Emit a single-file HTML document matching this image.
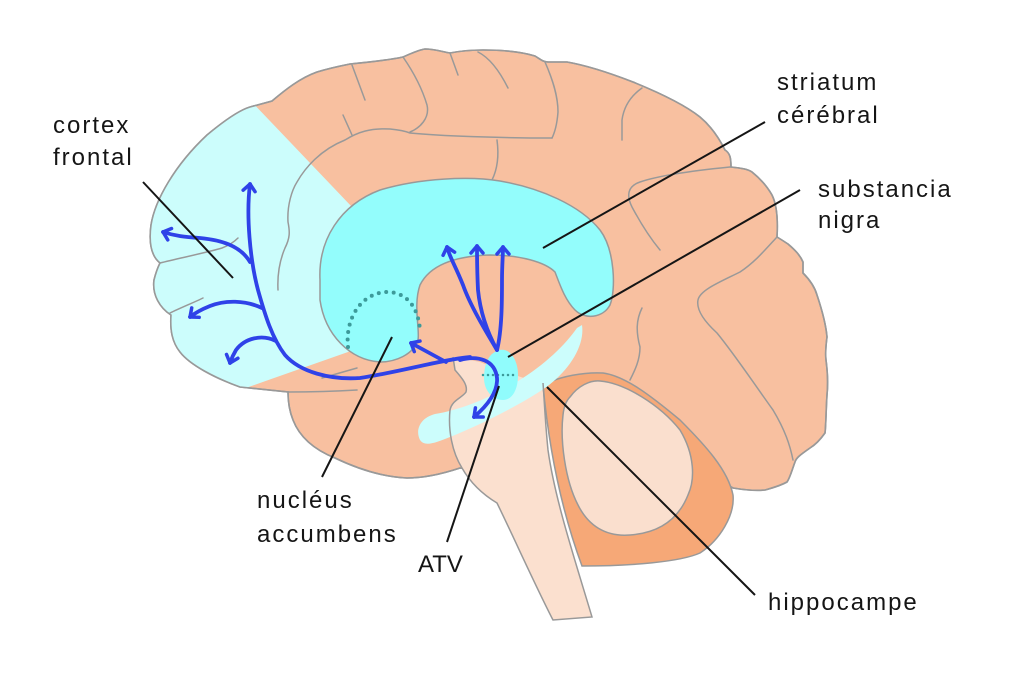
<!DOCTYPE html>
<html>
<head>
<meta charset="utf-8">
<style>
  html,body{margin:0;padding:0;background:#fff;}
  svg{display:block;}
  text{font-family:"Liberation Sans",Arial,sans-serif;font-size:24px;fill:#151515;letter-spacing:2px;}
</style>
</head>
<body>
<svg width="1023" height="679" viewBox="0 0 1023 679" xmlns="http://www.w3.org/2000/svg">
  <defs>
    <path id="outer" d="M240,387 C215,378 190,365 180,352 C172,342 170,330 171,315 C160,308 152,295 154,280 C156,272 158,267 160,263 C150,255 149,240 151,225 C155,200 175,165 207,135 C225,120 240,110 250,107 L272,101 C285,90 300,78 317,72 C330,68 340,66 350,64 C370,62 390,60 403,57 C410,54 418,50 425,49 C435,49 443,52 450,53 C460,51 470,50 483,50 C505,50 522,52 535,56 C540,59 543,62 548,62 L567,62 C590,66 615,75 633,82 C660,93 685,105 700,117 C712,127 720,140 725,150 C730,153 731,158 731,167 C740,168 748,169 752,172 C762,180 768,188 772,195 C777,205 778,220 777,237 C782,240 785,242 788,244 C795,250 800,255 803,262 L803,273 C810,280 815,288 817,295 C822,310 826,325 827,337 C826,345 825,352 826,360 C828,375 828,385 827,395 C826,410 826,425 825,433 C820,440 815,445 810,448 C800,455 796,458 795,462 C792,470 790,478 787,482 C780,486 772,488 765,490 C755,491 745,490 733,488 L700,470 L640,400 L560,385 L500,470 L460,468 C445,473 425,478 407,478 C385,477 360,470 335,458 C315,450 300,438 293,420 C289,410 288,400 288,392 Z"/>
    <clipPath id="clipOuter"><use href="#outer"/></clipPath>
    <marker id="ah" markerUnits="userSpaceOnUse" orient="auto" markerWidth="1" markerHeight="1" refX="0" refY="0" style="overflow:visible">
      <path d="M-7,-6 L0,0 L-7,6" fill="none" stroke="#2F42E8" stroke-width="3.5" stroke-linecap="round" stroke-linejoin="round"/>
    </marker>
  </defs>

  <!-- cerebrum -->
  <use href="#outer" fill="#F8C0A0" stroke="#999" stroke-width="1.6"/>

  <!-- frontal cortex light cyan -->
  <polygon clip-path="url(#clipOuter)" points="250,100 352,207 365,260 365,345 348,352 240,390 120,392 120,40 250,40" fill="#CCFDFC"/>

  <!-- sulci -->
  <g fill="none" stroke="#999" stroke-width="1.5" stroke-linecap="round">
    <path d="M352,65 L365,100"/>
    <path d="M403,57 C412,70 422,88 427,105 C430,118 420,128 410,132"/>
    <path d="M450,53 L458,75"/>
    <path d="M478,52 C490,58 500,72 508,88"/>
    <path d="M545,62 C552,78 558,95 558,112 C557,125 555,132 552,138"/>
    <path d="M278,290 C277,270 282,255 285,248 C290,238 290,232 288,222 C287,205 292,190 297,182 C305,168 320,150 345,140 C358,132 370,128 390,129 C400,130 405,131 410,133 C440,136 500,138 552,138"/>
    <path d="M497,140 C499,155 498,168 492,180"/>
    <path d="M642,88 C632,95 624,105 622,120 L622,140"/>
    <path d="M730,167 C700,170 660,175 640,182 C628,186 626,195 632,207 C640,222 650,238 660,250"/>
    <path d="M343,115 L352,135"/>
    <path d="M777,237 C765,250 755,262 740,272 C720,282 700,290 698,300 C696,310 705,322 717,333 C735,355 755,385 773,410 C785,430 790,445 793,460"/>
    <path d="M642,308 C636,320 636,332 640,347 C640,360 635,370 630,380"/>
    <path d="M160,263 C180,258 205,253 222,248 C230,245 235,241 238,238"/>
    <path d="M170,313 C180,308 195,302 203,298"/>
    <path d="M322,378 L357,368"/>
    <path d="M288,392 C310,392 340,391 357,390"/>
  </g>
  <use href="#outer" fill="none" stroke="#999" stroke-width="1.6"/>

  <!-- striatum -->
  <path d="M320,280 C318,240 340,205 380,190 C420,178 470,176 500,181 C540,188 580,205 600,230 C615,250 616,290 610,305 C603,318 585,320 575,310 C565,300 560,285 555,272 C545,262 520,255 490,255 C455,256 430,265 420,285 C413,305 420,330 418,340 C413,355 395,362 380,362 C350,360 325,335 320,300 Z" fill="#93FDFC" stroke="#999" stroke-width="1.5"/>

  <!-- brainstem fill -->
  <path d="M453,357 L455,370 C462,378 468,385 466,392 C462,398 452,400 450,410 C448,430 452,452 462,468 C470,482 482,494 497,503 C515,540 535,585 553,620 L592,617 C575,560 555,500 548,450 C545,420 544,395 543,383 C520,378 495,368 480,362 L460,358 Z" fill="#FBE0CF"/>

  <!-- cerebellum -->
  <path d="M543,385 C560,376 585,372 603,373 C625,376 650,395 680,420 C705,445 728,470 733,495 C735,515 720,540 700,553 C680,562 630,566 582,566 C565,520 550,460 543,385 Z" fill="#F6A877" stroke="#999" stroke-width="1.5"/>
  <path d="M570,397 C578,386 590,380 600,381 C625,383 660,405 680,430 C695,455 695,480 688,495 C678,520 658,533 630,535 C605,537 588,525 578,505 C565,480 560,440 563,415 C564,405 567,400 570,397 Z" fill="#FADFCE" stroke="#999" stroke-width="1.5"/>

  <!-- light cyan band -->
  <path d="M582,325 C585,345 570,370 545,388 C520,405 480,425 450,437 C435,443 425,447 420,440 C415,430 420,418 435,414 C460,410 490,398 515,383 C545,365 565,345 577,328 Z" fill="#CCFDFC"/>

  <!-- brainstem strokes -->
  <g fill="none" stroke="#999" stroke-width="1.5">
    <path d="M453,357 L455,370 C462,378 468,385 466,392 C462,398 452,400 450,410 C448,430 452,452 462,468 C470,482 482,494 497,503 C515,540 535,585 553,620 L592,617 C575,560 555,500 548,450 C545,420 544,395 543,383"/>
  </g>

  <!-- ATV -->
  <path d="M500,350 C510,348 518,360 518,375 C518,390 512,400 503,400 C492,400 484,390 484,378 C484,362 490,352 500,350 Z" fill="#90FCFC"/>
  <path d="M483,375 L518,375" stroke="#3D9A9A" stroke-width="2.5" stroke-dasharray="0 5" stroke-linecap="round"/>

  <!-- nucleus accumbens dots -->
  <path d="M348,347 C345,320 360,293 387,292 C405,292 418,305 420,330" fill="none" stroke="#3D9A9A" stroke-width="4" stroke-dasharray="0 7.5" stroke-linecap="round"/>

  <!-- dopamine pathways -->
  <g fill="none" stroke="#2F42E8" stroke-width="3.8" stroke-linecap="round" stroke-linejoin="round">
    <path d="M470,357 C440,360 400,372 360,378 C330,380 300,372 285,355 C272,338 265,315 258,290 C250,260 246,215 250,184" marker-end="url(#ah)"/>
    <path d="M460,360 C478,355 495,360 497,378 C498,392 488,405 474,417" marker-end="url(#ah)"/>
    <path d="M250,262 C240,245 220,240 200,238 C185,237 175,236 163,232" marker-end="url(#ah)"/>
    <path d="M262,308 C245,300 225,300 210,306 C200,310 195,313 190,317" marker-end="url(#ah)"/>
    <path d="M276,341 C262,334 245,338 236,350 C233,355 231,360 230,363" marker-end="url(#ah)"/>
    <path d="M446,362 C435,356 422,349 411,343" marker-end="url(#ah)"/>
    <path d="M497,350 C485,330 470,305 463,285 C455,265 450,258 447,247" marker-end="url(#ah)"/>
    <path d="M497,350 C486,330 480,310 478,290 C477,270 477,260 477,246" marker-end="url(#ah)"/>
    <path d="M497,350 C502,330 502,300 502,280 C502,265 503,255 503,247" marker-end="url(#ah)"/>
  </g>

  <!-- label lines -->
  <g stroke="#151515" stroke-width="2" fill="none">
    <line x1="143" y1="182" x2="233" y2="278"/>
    <line x1="765" y1="122" x2="543" y2="248"/>
    <line x1="800" y1="190" x2="508" y2="357"/>
    <line x1="392" y1="337" x2="322" y2="477"/>
    <line x1="499" y1="386" x2="447" y2="542"/>
    <line x1="547" y1="387" x2="755" y2="595"/>
  </g>

  <!-- labels -->
  <text x="53" y="133">cortex</text>
  <text x="53" y="165">frontal</text>
  <text x="777" y="90">striatum</text>
  <text x="777" y="123">cérébral</text>
  <text x="818" y="197">substancia</text>
  <text x="818" y="228">nigra</text>
  <text x="257" y="508">nucléus</text>
  <text x="257" y="542">accumbens</text>
  <text x="418" y="572" style="letter-spacing:0">ATV</text>
  <text x="768" y="610">hippocampe</text>
</svg>
</body>
</html>
